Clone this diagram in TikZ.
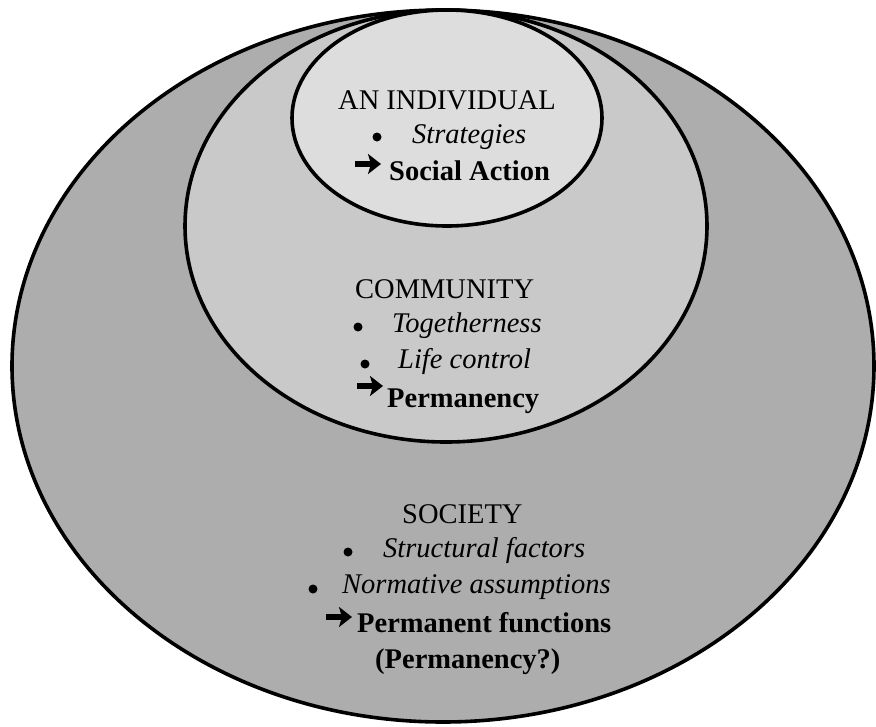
\documentclass[tikz,border=0pt]{standalone}
\usepackage{fontspec}
\usetikzlibrary{arrows.meta}
\setmainfont{Liberation Serif}
\definecolor{outerfill}{gray}{0.68}
\definecolor{midfill}{gray}{0.79}
\definecolor{innerfill}{gray}{0.865}
\begin{document}
\begin{tikzpicture}[x=1pt,y=-1pt,
  ring/.style={draw=black,line width=3.6pt},
  lbl/.style={anchor=base west,inner sep=0pt,font=\fontsize{28.5}{34}\selectfont},
  itlbl/.style={lbl,font=\fontsize{28.5}{34}\selectfont\itshape},
  bflbl/.style={lbl,font=\fontsize{28.5}{34}\selectfont\bfseries},
  dot/.style={circle,fill=black,inner sep=0pt,minimum size=9pt},
  bigarrow/.style={line width=6pt,-{Stealth[length=13pt,width=20pt,inset=3pt]}}
]
\fill[white] (0,0) rectangle (876,726);
\useasboundingbox (0,0) rectangle (876,726);
% ellipses
\draw[ring,fill=outerfill] (443,366) ellipse [x radius=431pt, y radius=356pt];
\draw[ring,fill=midfill] (446,226) ellipse [x radius=261pt, y radius=216pt];
\draw[ring,fill=innerfill] (447,118) ellipse [x radius=155pt, y radius=108pt];
% individual
\node[lbl] (indh) at (338,109) {AN INDIVIDUAL};
\node[dot] (indd1) at (377,137) {};
\node[itlbl] (ind1) at (412,143) {Strategies};
\coordinate (inda1) at (355,164);
\coordinate (inda2) at (381,164);
\draw[bigarrow] (inda1) -- (inda2);
\node[bflbl] (ind2) at (389,180) {Social Action};
% community
\node[lbl] (comh) at (355,298) {COMMUNITY};
\node[dot] (comd1) at (358,327) {};
\node[itlbl] (com1) at (392,332) {Togetherness};
\node[dot] (comd2) at (365,364) {};
\node[itlbl] (com2) at (398,368) {Life control};
\coordinate (coma1) at (357,386);
\coordinate (coma2) at (383,386);
\draw[bigarrow] (coma1) -- (coma2);
\node[bflbl] (com3) at (387,407) {Permanency};
% society
\node[lbl] (soch) at (402,523) {SOCIETY};
\node[dot] (socd1) at (348,552) {};
\node[itlbl] (soc1) at (383,557) {Structural factors};
\node[dot] (socd2) at (313,589) {};
\node[itlbl] (soc2) at (342,593) {Normative assumptions};
\coordinate (soca1) at (326,617);
\coordinate (soca2) at (352,617);
\draw[bigarrow] (soca1) -- (soca2);
\node[bflbl] (soc3) at (357,632) {Permanent functions};
\node[bflbl] (soc4) at (375,668) {(Permanency?)};
\end{tikzpicture}
\end{document}
